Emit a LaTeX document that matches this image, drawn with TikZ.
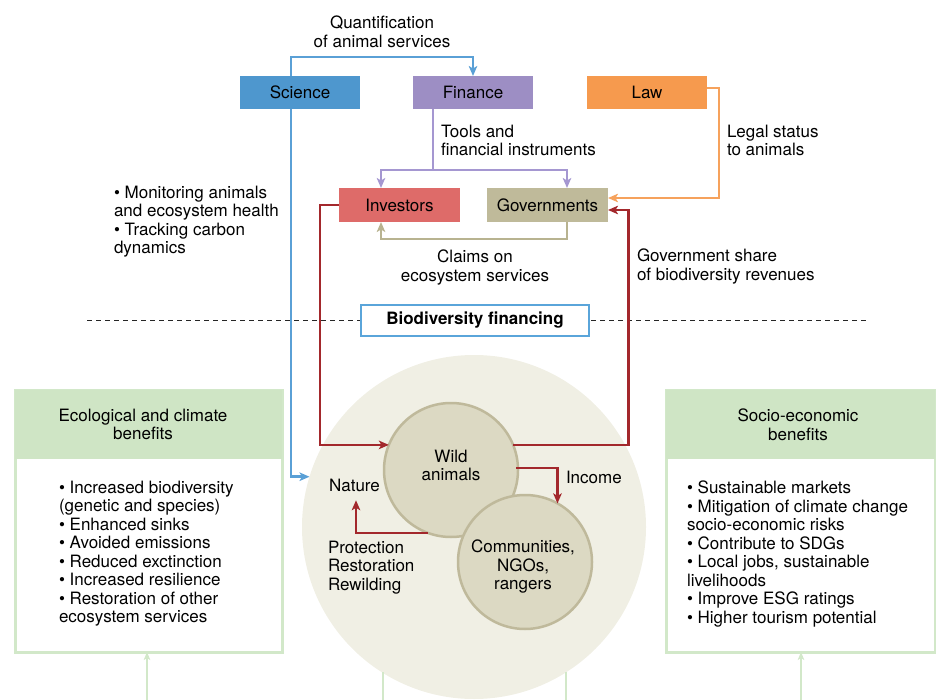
\documentclass[tikz,border=0pt]{standalone}
\usepackage{fontspec}
\setmainfont{TeX Gyre Heros}
\usetikzlibrary{arrows.meta,calc}
\definecolor{sciblue}{HTML}{4E97CE}
\definecolor{sciline}{HTML}{5AA0D6}
\definecolor{finpurple}{HTML}{9D8EC4}
\definecolor{finline}{HTML}{A597D1}
\definecolor{laworange}{HTML}{F69A4E}
\definecolor{lawline}{HTML}{F6A25C}
\definecolor{invred}{HTML}{DE6B69}
\definecolor{govolive}{HTML}{BFBA9A}
\definecolor{claimline}{HTML}{B8B390}
\definecolor{darkred}{HTML}{A3282C}
\definecolor{grn}{HTML}{CFE5C5}
\definecolor{grnline}{HTML}{D2E8C9}
\definecolor{bigfill}{HTML}{F0EFE4}
\definecolor{innerfill}{HTML}{DCD9C3}
\definecolor{innerdraw}{HTML}{BFB99B}
\definecolor{bfblue}{HTML}{5AA5DA}
\newcommand{\bt}{\textbullet\ }
\begin{document}
\begin{tikzpicture}[x=1pt,y=-1pt,
  font=\fontsize{17}{18.5}\selectfont,
  topbox/.style={rectangle, minimum width=120pt, minimum height=33pt, inner sep=0, outer sep=0},
  midbox/.style={rectangle, minimum width=121pt, minimum height=34pt, inner sep=0, outer sep=0},
  txt/.style={inner sep=0, outer sep=0},
  tip/.style={-{Stealth[length=10pt,width=8.5pt,inset=2.5pt]}},
  conn/.style={line width=2.7pt, tip},
  benefit/.style={draw=grnline, line width=3pt, fill=white, minimum width=267pt, minimum height=262pt, inner sep=0, outer sep=0},
  hdrfill/.style={fill=grn, minimum width=267pt, minimum height=69pt, inner sep=0, outer sep=0, anchor=north},
  animal/.style={circle, draw=innerdraw, line width=2.5pt, fill=innerfill, minimum size=134pt, inner sep=0, outer sep=0}
]
\clip (0,0) rectangle (936,700);

% big nature circle
\node[circle, fill=bigfill, minimum size=344pt, inner sep=0, outer sep=0] (big) at (474,527) {};
\coordinate (bl1) at (383,700);
\coordinate (bl2) at (566,700);
\draw[grnline, line width=2.2pt] (bl1) -- ++(0,-28);
\draw[grnline, line width=2.2pt] (bl2) -- ++(0,-28);

% dashed separator
\coordinate (dl) at (87,320);
\coordinate (dr) at (866,320);
\draw[line width=0.9pt, dash pattern=on 5pt off 4pt, black!85] (dl) -- (dr);
\node[draw=bfblue, line width=1.2pt, fill=white, minimum width=228pt, minimum height=31pt, inner sep=0, font=\fontsize{17}{18.5}\selectfont\bfseries] (bf) at (475,320.5) {Biodiversity financing};

% top boxes
\node[topbox, fill=sciblue] (sci) at (300,92.5) {Science};
\node[topbox, fill=finpurple] (fin) at (473,92.5) {Finance};
\node[topbox, fill=laworange] (law) at (647,92.5) {Law};
\node[midbox, fill=invred] (inv) at (399.5,205) {Investors};
\node[midbox, fill=govolive] (gov) at (547.5,205) {Governments};

% inner circles
\node[animal] (wa) at (451,470) {};
\node[animal] (comm) at (525,562) {};
\node[txt, align=center, anchor=north] (walbl) at (451,450) {Wild\\animals};
\node[txt, align=center, anchor=north] (commlbl) at (523,540) {Communities,\\NGOs,\\rangers};

% labels
\node[txt, align=center, anchor=north] (quant) at (382,16) {Quantification\\of animal services};
\node[txt, align=left, anchor=north west] (tools) at (441,125) {Tools and\\financial instruments};
\node[txt, align=left, anchor=north west] (legal) at (727,125) {Legal status\\to animals};
\node[txt, align=left, anchor=north west] (monit) at (114,186) {\bt Monitoring animals\\and ecosystem health\\\bt Tracking carbon\\dynamics};
\node[txt, align=center, anchor=north] (claims) at (475,250) {Claims on\\ecosystem services};
\node[txt, align=left, anchor=north west] (gshare) at (637,249) {Government share\\of biodiversity revenues};
\node[txt, anchor=base] (nature) at (354.5,491.5) {Nature};
\node[txt, anchor=base west] (income) at (566,483.5) {Income};
\node[txt, align=left, anchor=north west] (prot) at (328,541) {Protection\\Restoration\\Rewilding};

% benefit boxes
\node[benefit] (lb) at (148.5,521) {};
\node[hdrfill] (lh) at (lb.north) {};
\node[txt, align=center, anchor=north] (lht) at (143,409) {Ecological and climate\\benefits};
\node[txt, align=left, anchor=north west] (lbt) at (59,481) {\bt Increased biodiversity\\(genetic and species)\\\bt Enhanced sinks\\\bt Avoided emissions\\\bt Reduced exctinction\\\bt Increased resilience\\\bt Restoration of other\\ecosystem services};

\node[benefit, minimum width=269pt] (rb) at (800.5,521) {};
\node[hdrfill, minimum width=269pt] (rh) at (rb.north) {};
\node[txt, align=center, anchor=north] (rht) at (798,409) {Socio-economic\\benefits};
\node[txt, align=left, anchor=north west] (rbt) at (687,481) {\bt Sustainable markets\\\bt Mitigation of climate change\\socio-economic risks\\\bt Contribute to SDGs\\\bt Local jobs, sustainable\\livelihoods\\\bt Improve ESG ratings\\\bt Higher tourism potential};

\coordinate (la) at (147,700);
\coordinate (ra) at (801,700);
\draw[grnline, line width=2.2pt, -{Stealth[length=8pt,width=6.5pt,inset=2pt]}] (la) -- (la |- lb.south);
\draw[grnline, line width=2.2pt, -{Stealth[length=8pt,width=6.5pt,inset=2pt]}] (ra) -- (ra |- rb.south);

% connectors
\draw[conn, sciline] ($(sci.north)+(-9,0)$) -- ++(0,-19) -| (fin.north);
\draw[conn, sciline] ($(sci.south)+(-9,0)$) |- (big.163.1);
\draw[line width=2.7pt, finline] ($(fin.south)+(-40,0)$) -- ++(0,61) coordinate (pj);
\draw[conn, finline] (pj) -| ($(inv.north)+(-18.5,0)$);
\draw[conn, finline] (pj) -| ($(gov.north)+(19.5,0)$);
\draw[conn, lawline] ($(law.east)+(0,-4.5)$) -- ++(12,0) |- ($(gov.east)+(0,-7)$);
\draw[conn, claimline] ($(gov.south)+(19.5,0)$) -- ++(0,17) -| ($(inv.south)+(-18.5,0)$);
\draw[conn, darkred] (inv.west) -- ++(-19,0) |- (wa.158);
\draw[conn, darkred] (wa.22) -| ($(gov.east)+(20.5,5)$) -- ($(gov.east)+(0,5)$);
\draw[conn, darkred] ($(wa.east)+(-2,-2)$) -| (comm.61.5);
\draw[conn, darkred] (wa.250) -| ($(nature.south)+(1.5,8.5)$);
\end{tikzpicture}
\end{document}
